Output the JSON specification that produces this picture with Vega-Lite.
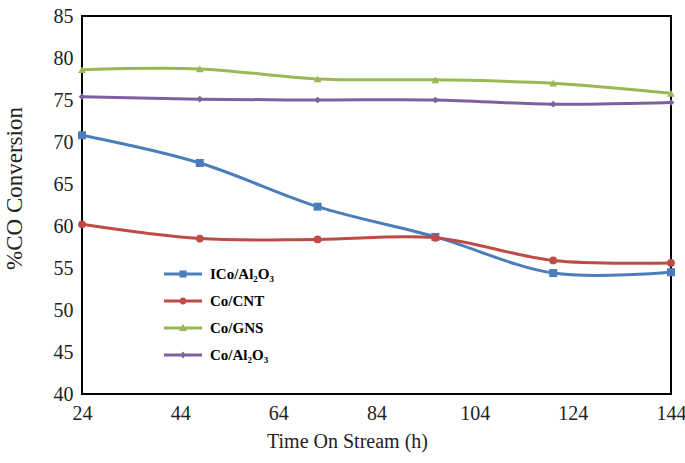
{
  "$schema": "https://vega.github.io/schema/vega-lite/v6.json",
  "autosize": "none",
  "width": 589,
  "height": 378,
  "padding": {"left": 82, "top": 16, "right": 14, "bottom": 69},
  "background": "white",
  "config": {
    "view": {"stroke": "black", "strokeWidth": 2},
    "font": "Liberation Serif",
    "axis": {"grid": false, "ticks": false, "domain": false, "labelFont": "Liberation Serif", "labelFontSize": 20, "labelColor": "#222", "titleFont": "Liberation Serif", "titleFontWeight": "normal", "titleColor": "#222"}
  },
  "data": {"values": [
    {"t": 24, "s": "ICo/Al₂O₃", "v": 70.8},
    {"t": 48, "s": "ICo/Al₂O₃", "v": 67.5},
    {"t": 72, "s": "ICo/Al₂O₃", "v": 62.3},
    {"t": 96, "s": "ICo/Al₂O₃", "v": 58.7},
    {"t": 120, "s": "ICo/Al₂O₃", "v": 54.4},
    {"t": 144, "s": "ICo/Al₂O₃", "v": 54.5},
    {"t": 24, "s": "Co/CNT", "v": 60.2},
    {"t": 48, "s": "Co/CNT", "v": 58.5},
    {"t": 72, "s": "Co/CNT", "v": 58.4},
    {"t": 96, "s": "Co/CNT", "v": 58.6},
    {"t": 120, "s": "Co/CNT", "v": 55.9},
    {"t": 144, "s": "Co/CNT", "v": 55.6},
    {"t": 24, "s": "Co/GNS", "v": 78.6},
    {"t": 48, "s": "Co/GNS", "v": 78.7},
    {"t": 72, "s": "Co/GNS", "v": 77.5},
    {"t": 96, "s": "Co/GNS", "v": 77.4},
    {"t": 120, "s": "Co/GNS", "v": 77.0},
    {"t": 144, "s": "Co/GNS", "v": 75.8},
    {"t": 24, "s": "Co/Al₂O₃", "v": 75.4},
    {"t": 48, "s": "Co/Al₂O₃", "v": 75.1},
    {"t": 72, "s": "Co/Al₂O₃", "v": 75.0},
    {"t": 96, "s": "Co/Al₂O₃", "v": 75.0},
    {"t": 120, "s": "Co/Al₂O₃", "v": 74.5},
    {"t": 144, "s": "Co/Al₂O₃", "v": 74.7}
  ]},
  "encoding": {
    "x": {"field": "t", "type": "quantitative", "scale": {"domain": [24, 144], "nice": false, "zero": false},
      "axis": {"values": [24, 44, 64, 84, 104, 124, 144], "labelFlush": false, "labelPadding": 9, "title": "Time On Stream (h)", "titleFontSize": 20, "titlePadding": 8, "titleX": 265}},
    "y": {"field": "v", "type": "quantitative", "scale": {"domain": [40, 85], "nice": false, "zero": false},
      "axis": {"values": [40, 45, 50, 55, 60, 65, 70, 75, 80, 85], "labelFlush": false, "labelPadding": 9, "title": "%CO Conversion", "titleFontSize": 23, "titlePadding": 27, "titleY": 172}},
    "color": {"field": "s", "type": "nominal",
      "scale": {"domain": ["ICo/Al₂O₃", "Co/CNT", "Co/GNS", "Co/Al₂O₃"], "range": ["#4a7ebb", "#be4b48", "#98b954", "#7d60a0"]},
      "legend": {"title": null, "orient": "none", "legendX": 82, "legendY": 248, "padding": 0, "symbolSize": 400, "rowPadding": 9, "labelOffset": 26,
        "labelFont": "Liberation Serif", "labelFontSize": 15, "labelFontWeight": "bold", "labelColor": "black",
        "encode": {"symbols": {"update": {
          "fill": {"scale": "color", "field": "value"},
          "strokeWidth": {"value": 0},
          "opacity": {"value": 1},
          "shape": {"signal": "datum.value === 'ICo/Al₂O₃' ? 'M-1,-0.15H2.8V0.15H-1Z M0.55,-0.35H1.25V0.35H0.55Z' : datum.value === 'Co/CNT' ? 'M-1,-0.15H2.8V0.15H-1Z M0.55,0A0.35,0.35 0 1,1 1.25,0A0.35,0.35 0 1,1 0.55,0Z' : datum.value === 'Co/GNS' ? 'M-1,-0.15H2.8V0.15H-1Z M0.9,-0.42L1.3,0.3H0.5Z' : 'M-1,-0.15H2.8V0.15H-1Z M0.9,-0.35L1.2,0L0.9,0.35L0.6,0Z'"}
        }}}
      }}
  },
  "layer": [
    {"mark": {"type": "line", "interpolate": "cardinal", "strokeWidth": 3}},
    {"transform": [{"filter": "datum.s === 'ICo/Al₂O₃'"}], "mark": {"type": "point", "filled": true, "opacity": 1, "size": 64, "shape": "square"}},
    {"transform": [{"filter": "datum.s === 'Co/CNT'"}], "mark": {"type": "point", "filled": true, "opacity": 1, "size": 60, "shape": "circle"}},
    {"transform": [{"filter": "datum.s === 'Co/GNS'"}], "mark": {"type": "point", "filled": true, "opacity": 1, "size": 60, "shape": "triangle-up"}},
    {"transform": [{"filter": "datum.s === 'Co/Al₂O₃'"}], "mark": {"type": "point", "filled": true, "opacity": 1, "size": 45, "shape": "diamond"}}
  ]
}
